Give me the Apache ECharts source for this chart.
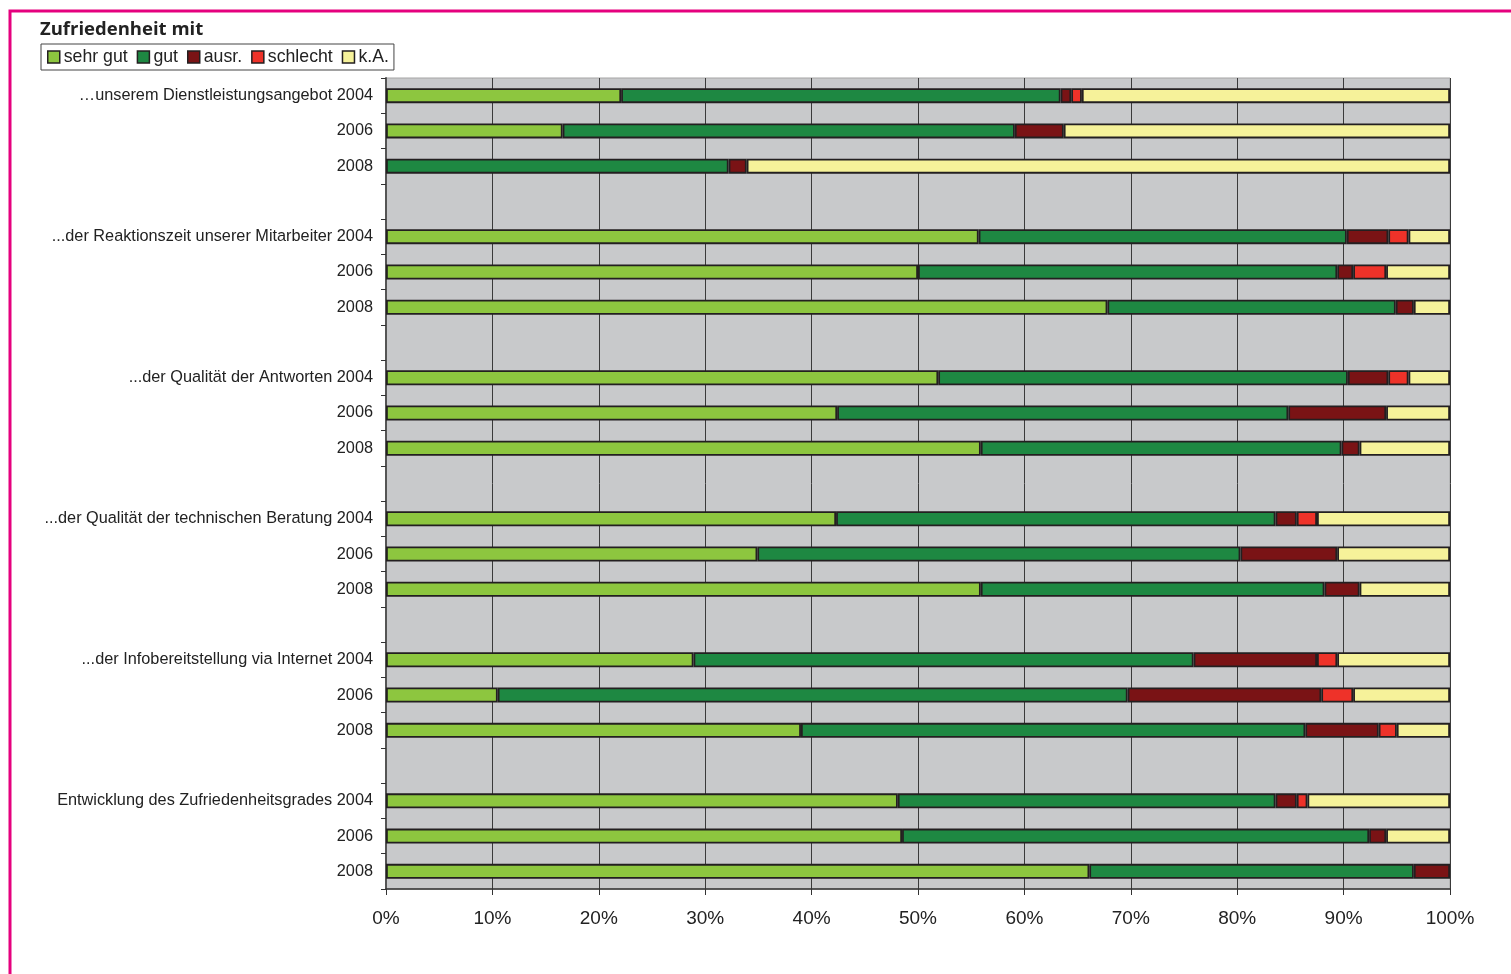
<!DOCTYPE html>
<html>
<head>
<meta charset="utf-8">
<script src="https://cdn.jsdelivr.net/npm/echarts@6/dist/echarts.min.js"></script>
<style>
html,body{margin:0;padding:0;background:#fff;}
#c{width:1511px;height:974px;}
</style>
</head>
<body>
<div id="c"></div>
<script>
var categories = ['…unserem Dienstleistungsangebot 2004','2006','2008','',
  '...der Reaktionszeit unserer Mitarbeiter 2004','2006','2008','',
  '...der Qualität der Antworten 2004','2006','2008','',
  '...der Qualität der technischen Beratung 2004','2006','2008','',
  '...der Infobereitstellung via Internet 2004','2006','2008','',
  'Entwicklung des Zufriedenheitsgrades 2004','2006','2008'];
var seriesNames = ['sehr gut','gut','ausr.','schlecht','k.A.'];
var sehrGut  = [22.1,16.6,null,null, 55.7,50.0,67.8,null, 51.9,42.4,55.9,null, 42.3,34.9,55.9,null, 28.9,10.5,39.0,null, 48.1,48.5,66.1];
var gut      = [41.3,42.5,32.2,null, 34.6,39.4,27.1,null, 38.5,42.4,33.9,null, 41.3,45.4,32.3,null, 47.0,59.2,47.4,null, 35.5,43.9,30.5];
var ausr     = [1.0,4.6,1.7,null,    3.9,1.5,1.7,null,    3.8,9.2,1.7,null,    2.0,9.1,3.3,null,    11.6,18.2,6.9,null,  2.0,1.6,3.4];
var schlecht = [1.0,null,null,null,  1.9,3.1,null,null,   1.9,null,null,null,  1.9,null,null,null,  1.9,3.0,1.7,null,    1.0,null,null];
var kA       = [34.6,36.3,66.1,null, 3.9,6.0,3.4,null,    3.9,6.0,8.5,null,    12.5,10.6,8.5,null,  10.6,9.1,5.0,null,   13.4,6.0,null];
var xTicks = [0,10,20,30,40,50,60,70,80,90,100];

var colors = ['#8dc63f','#1e8842','#7a1315','#ee3229','#f6f29a'];
var values = [sehrGut, gut, ausr, schlecht, kA];

var chart = echarts.init(document.getElementById('c'), null, {renderer:'canvas'});
var series = seriesNames.map(function(n,i){
  return {
    name:n, type:'bar', stack:'total', barWidth:15,
    data: values[i],
    itemStyle:{color:colors[i], borderColor:'#231f20', borderWidth:1.8},
    emphasis:{disabled:true}
  };
});
chart.setOption({
  animation:false,
  textStyle:{fontFamily:'Liberation Sans'},
  graphic:[{type:'rect', shape:{x:10,y:11,width:1600,height:1000}, style:{fill:'none', stroke:'#e5007e', lineWidth:3}, z:100}],
  title:{text:'Zufriedenheit mit', left:40, top:20, padding:0,
    textStyle:{fontFamily:'Open Sans', fontWeight:'bold', fontSize:18.5, color:'#222'}},
  legend:{left:41, top:44, padding:[4,5,4,6], itemGap:9, itemWidth:12, itemHeight:12,
    borderColor:'#444', borderWidth:1, icon:'rect',
    itemStyle:{borderColor:'#231f20', borderWidth:1.5},
    textStyle:{fontFamily:'Liberation Sans', fontSize:17.7, color:'#222', padding:[0,0,0,-1]},
    data:seriesNames},
  grid:{left:386, right:61, top:78, bottom:85, show:true, backgroundColor:'#c8c9cb', borderColor:'#a5a5a5', borderWidth:1},
  xAxis:{type:'value', min:0, max:100, interval:10,
    axisLine:{show:true, lineStyle:{color:'#333', width:1.5}},
    axisTick:{show:true, length:6, lineStyle:{color:'#333'}},
    axisLabel:{formatter:'{value}%', fontSize:19, color:'#222', margin:20, fontFamily:'Liberation Sans'},
    splitLine:{show:true, lineStyle:{color:'#3a3a3a', width:1}}},
  yAxis:{type:'category', inverse:true, data:categories,
    axisLine:{show:true, lineStyle:{color:'#555', width:2}},
    axisTick:{show:true, length:5, interval:0, lineStyle:{color:'#333'}},
    axisLabel:{interval:0, fontSize:16.3, color:'#222', margin:13, fontFamily:'Liberation Sans'},
    splitLine:{show:false}},
  series:series
});
</script>
</body>
</html>
